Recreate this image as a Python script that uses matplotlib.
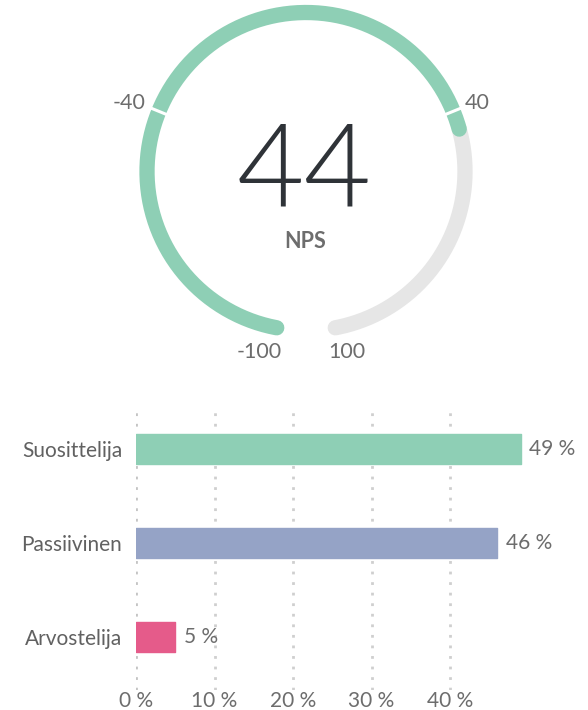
import numpy as np
import matplotlib
matplotlib.use('Agg')
import matplotlib.pyplot as plt

plt.rcParams['font.family'] = ['Lato', 'DejaVu Sans']

# gauge data
nps_value = 44
gauge_min, gauge_max = -100, 100
gauge_ticks = [-40, 40]

# bar data
categories = ['Suosittelija', 'Passiivinen', 'Arvostelija']
shares = [49, 46, 5]
bar_colors = ['#8ecfb5', '#95a3c6', '#e55b8a']
xticks = [0, 10, 20, 30, 40]

text_grey = '#6d6d6d'

fig = plt.figure(figsize=(5.88, 7.1), dpi=100)

# ---- gauge, drawn in pixel coords ----
ax = fig.add_axes([0, 0, 1, 1])
ax.set_xlim(0, 588)
ax.set_ylim(710, 0)
ax.axis('off')

cx, cy, r = 306, 171.5, 159
gap = 10.6  # half gap at bottom, degrees
start = 270 - gap
sweep = 360 - 2 * gap

def val_to_ang(v):
    t = (v - gauge_min) / (gauge_max - gauge_min)
    return np.radians(start - t * sweep)

def arc(v0, v1, color, lw=11):
    a = np.linspace(val_to_ang(v0), val_to_ang(v1), 300)
    ax.plot(cx + r * np.cos(a), cy - r * np.sin(a), color=color, lw=lw,
            solid_capstyle='round')

arc(nps_value, gauge_max, '#e6e6e6')
arc(gauge_min, nps_value, '#8ecfb5')

# little white gaps at the ticks
for tv in gauge_ticks:
    a = val_to_ang(tv)
    r0, r1 = r - 9, r + 9
    ax.plot([cx + r0 * np.cos(a), cx + r1 * np.cos(a)],
            [cy - r0 * np.sin(a), cy - r1 * np.sin(a)], color='white', lw=2.2)

# tick labels
gfs = 15.5
ax.text(145, 103, str(gauge_ticks[0]), ha='right', va='center', fontsize=gfs, color=text_grey)
ax.text(465, 103, str(gauge_ticks[1]), ha='left', va='center', fontsize=gfs, color=text_grey)
ax.text(282, 352, str(gauge_min), ha='right', va='center', fontsize=gfs, color=text_grey)
ax.text(328, 352, str(gauge_max), ha='left', va='center', fontsize=gfs, color=text_grey)

ax.text(304, 174, str(nps_value), ha='center', va='center', fontsize=84,
        fontweight=300, color='#2f3338')
ax.text(305, 241, 'NPS', ha='center', va='center', fontsize=15.5,
        fontweight='bold', color=text_grey)

# ---- bar chart ----
fs = 15
left_px, right_px = 136, 136 + 392.5
top_px, bot_px = 405, 690
bx = fig.add_axes([left_px / 588, 1 - bot_px / 710,
                   (right_px - left_px) / 588, (bot_px - top_px) / 710])
ypos = np.arange(len(categories))
bx.barh(ypos, shares, height=0.32, color=bar_colors, edgecolor=bar_colors,
        linewidth=1, joinstyle='round', zorder=3)
bx.set_xlim(0, 50)
bx.set_ylim(2.564, -0.468)
bx.set_yticks(ypos)
bx.set_yticklabels(categories, fontsize=fs, color='#616161')
bx.set_xticks(xticks)
bx.set_xticklabels([f'{t} %' for t in xticks], fontsize=fs, color=text_grey)
bx.tick_params(axis='y', length=0, pad=10)
bx.tick_params(axis='x', length=0, pad=1)
for s in bx.spines.values():
    s.set_visible(False)
for t in xticks:
    bx.axvline(t, color='#cfcfcf' if t else '#c4c4c4', lw=2, ls=(0, (1.0, 2.8)), zorder=1)

for y, v in zip(ypos, shares):
    bx.text(v + 1.1, y, f'{v} %', ha='left', va='center', fontsize=fs, color=text_grey)

fig.savefig('out.png', dpi=100, facecolor='white')
